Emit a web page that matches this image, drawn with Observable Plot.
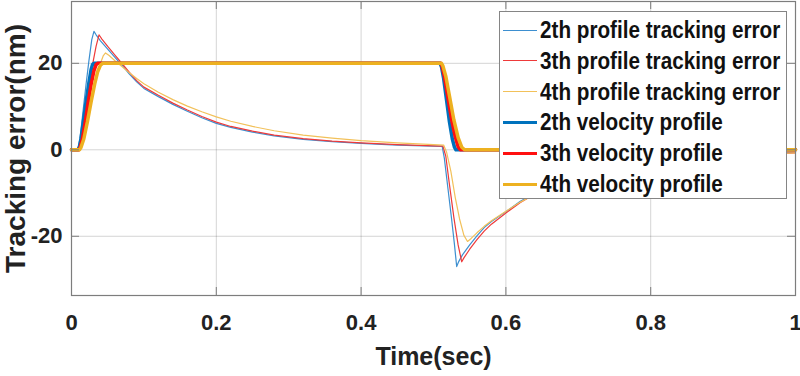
<!DOCTYPE html>
<html>
<head>
<meta charset="utf-8">
<script src="https://cdn.jsdelivr.net/npm/d3@7"></script>
<script src="https://cdn.jsdelivr.net/npm/@observablehq/plot@0.6"></script>
<style>
  html, body { margin: 0; padding: 0; background: #fff; }
  #wrap { position: relative; width: 800px; height: 376px; font-family: "Liberation Sans", Arial, sans-serif; }
  #legend { position: absolute; left: 499px; top: 11px; width: 288px; height: 188px; border: 1px solid #858585; background: #fff; box-sizing: border-box; }
  .row { position: absolute; left: 0; height: 30px; display: flex; align-items: center; font-weight: bold; font-size: 21px; color: #111; white-space: nowrap; }
  .row span { display: inline-block; transform: scale(0.985, 1.1); transform-origin: left center; }
  .sw { width: 34px; margin-left: 3px; margin-right: 3px; }
</style>
</head>
<body>
<div id="wrap"></div>
<script>
// ---------- data ----------
const xTicks = [0, 0.2, 0.4, 0.6, 0.8, 1];
const yTicks = [-20, 0, 20];

const seriesNames = [
  "2th profile tracking error",
  "3th profile tracking error",
  "4th profile tracking error",
  "2th velocity profile",
  "3th velocity profile",
  "4th velocity profile"
];

// tracking errors [time, nm]
const err2 = [[0,0],[0.009,0],[0.012,3],[0.016,9],[0.020,15],[0.024,20.5],[0.028,25.5],[0.031,27.4],[0.034,26.6],[0.040,25.2],[0.050,23.3],[0.060,21.4],[0.070,19.5],[0.080,17.5],[0.090,15.7],[0.100,14.2],[0.120,12.3],[0.140,10.5],[0.160,8.9],[0.180,7.4],[0.200,6.1],[0.220,5.2],[0.250,4.1],[0.280,3.2],[0.320,2.4],[0.360,1.9],[0.400,1.5],[0.450,1.1],[0.500,0.85],[0.512,0.8],[0.515,-2],[0.520,-9],[0.525,-16],[0.529,-22],[0.532,-27.0],[0.535,-25.8],[0.540,-24.3],[0.550,-22.0],[0.560,-19.9],[0.570,-18.0],[0.580,-16.6],[0.600,-14.3],[0.620,-11.9],[0.640,-10.0],[0.670,-7.8],[0.700,-6.1],[0.750,-4.1],[0.800,-2.8],[0.850,-1.9],[0.900,-1.3],[0.950,-0.9],[1.000,-0.6]];
const err3 = [[0,0],[0.010,0],[0.014,3],[0.018,7.5],[0.022,12],[0.026,16.5],[0.030,20.5],[0.034,24],[0.038,26.6],[0.042,25.6],[0.050,23.9],[0.060,21.9],[0.070,19.9],[0.080,17.9],[0.090,16.0],[0.100,14.5],[0.120,12.6],[0.140,10.8],[0.160,9.2],[0.180,7.7],[0.200,6.4],[0.220,5.4],[0.250,4.3],[0.280,3.4],[0.320,2.6],[0.360,2.0],[0.400,1.6],[0.450,1.2],[0.500,0.9],[0.513,0.85],[0.517,-1.5],[0.522,-8],[0.528,-15.5],[0.534,-22],[0.539,-25.9],[0.542,-25.0],[0.550,-23.0],[0.560,-20.8],[0.570,-18.8],[0.580,-17.2],[0.600,-14.6],[0.620,-12.2],[0.640,-10.2],[0.670,-8.0],[0.700,-6.3],[0.750,-4.2],[0.800,-2.9],[0.850,-2.0],[0.900,-1.4],[0.950,-1.0],[1.000,-0.7]];
const err4 = [[0,0],[0.011,0],[0.016,2.5],[0.022,7],[0.028,12],[0.034,16.5],[0.040,20],[0.044,21.8],[0.047,22.4],[0.052,21.8],[0.060,20.6],[0.070,19.2],[0.080,17.8],[0.090,16.5],[0.100,15.3],[0.120,13.3],[0.140,11.6],[0.160,10.1],[0.180,8.8],[0.200,7.6],[0.220,6.6],[0.250,5.4],[0.280,4.4],[0.320,3.4],[0.360,2.7],[0.400,2.1],[0.450,1.6],[0.500,1.2],[0.514,1.1],[0.518,-0.5],[0.524,-5],[0.530,-11],[0.536,-16],[0.542,-19.8],[0.547,-21.2],[0.552,-20.5],[0.560,-19.2],[0.570,-17.7],[0.580,-16.4],[0.600,-14.2],[0.620,-12.1],[0.640,-10.3],[0.670,-8.2],[0.700,-6.5],[0.750,-4.4],[0.800,-3.0],[0.850,-2.1],[0.900,-1.5],[0.950,-1.0],[1.000,-0.7]];

// velocity profiles [time, value]
const vel2 = [[0,0],[0.009,0],[0.011,0.8],[0.013,2.5],[0.016,6],[0.020,11],[0.024,15.5],[0.027,18.5],[0.029,19.7],[0.031,20],[0.509,20],[0.511,19.2],[0.514,16.5],[0.518,11.5],[0.522,6.5],[0.526,2.5],[0.529,0.6],[0.531,0],[1,0]];
const vel3 = [[0,0],[0.010,0],[0.012,0.6],[0.015,2.5],[0.019,6.5],[0.023,11],[0.027,15],[0.031,18.3],[0.034,19.7],[0.036,20],[0.510,20],[0.512,19.3],[0.515,17],[0.520,12],[0.525,7],[0.530,3],[0.534,0.7],[0.537,0],[1,0]];
const vel4 = [[0,0],[0.011,0],[0.013,0.5],[0.017,2.5],[0.022,6.5],[0.027,11],[0.032,15.2],[0.036,18],[0.040,19.6],[0.043,20],[0.511,20],[0.513,19.4],[0.517,17],[0.522,12.5],[0.528,7],[0.534,2.8],[0.539,0.6],[0.543,0],[1,0]];

const colors = ["#0072BD", "#FF1010", "#EDB120"];
const thinColors = ["#3d8fd0", "#ee3a3a", "#f2c15a"];

// ---------- chart ----------
const W = 800, H = 376, mL = 71, mR = 5, mT = 1, mB = 81;
const plotW = W - mL - mR, plotH = H - mT - mB;
const axisColor = "#7d7d7d";
const font = "Liberation Sans, Arial, sans-serif";

const errs = [err2, err3, err4];
const vels = [vel2, vel3, vel4];

const chart = Plot.plot({
  width: W, height: H,
  marginLeft: mL, marginRight: mR, marginTop: mT, marginBottom: mB,
  style: { fontFamily: font, background: "#fff", overflow: "visible" },
  x: { domain: [0, 1], ticks: xTicks, label: null },
  y: { domain: [-33.7, 34.3], ticks: yTicks, label: null },
  marks: [
    Plot.gridX(xTicks, { stroke: "#000", strokeOpacity: 0.17 }),
    Plot.gridY(yTicks, { stroke: "#000", strokeOpacity: 0.17 }),
    ...errs.map((d, i) => Plot.line(d, { x: "0", y: "1", stroke: thinColors[i], strokeWidth: 1.2 })),
    ...vels.map((d, i) => Plot.line(d, { x: "0", y: "1", stroke: colors[i], strokeWidth: 3.5, strokeLinejoin: "round" })),
    // inward ticks on all sides
    Plot.tickX(xTicks, { x: d => d, insetTop: plotH - 8, stroke: axisColor }),
    Plot.tickX(xTicks, { x: d => d, insetBottom: plotH - 8, stroke: axisColor }),
    Plot.tickY(yTicks, { y: d => d, insetRight: plotW - 8, stroke: axisColor }),
    Plot.tickY(yTicks, { y: d => d, insetLeft: plotW - 8, stroke: axisColor }),
    Plot.frame({ stroke: axisColor, strokeWidth: 1.2 }),
    Plot.axisX(xTicks, { tickSize: 0, tickPadding: 19, fontSize: 22, fontWeight: "bold", fill: "#222", label: null,
      tickFormat: d => (d === 0 || d === 1) ? String(d) : d.toFixed(1) }),
    Plot.axisY(yTicks, { tickSize: 0, tickPadding: 9, fontSize: 22, fontWeight: "bold", fill: "#222", label: null,
      tickFormat: d => String(d) }),
    Plot.text(["Tracking error(nm)"], { text: d => d, frameAnchor: "left", textAnchor: "middle", rotate: -90, dx: -55, fontSize: 28, fontWeight: "bold", fill: "#222" }),
    Plot.text(["Time(sec)"], { text: d => d, frameAnchor: "bottom", textAnchor: "middle", dy: 69, fontSize: 25, fontWeight: "bold", fill: "#222" })
  ]
});

const wrap = document.getElementById("wrap");
wrap.appendChild(chart);

// legend
const legend = document.createElement("div");
legend.id = "legend";
seriesNames.forEach((name, i) => {
  const row = document.createElement("div");
  row.className = "row";
  row.style.top = (3 + i * 30.8) + "px";
  const k = i % 3;
  const thick = i >= 3;
  const sw = document.createElement("div");
  sw.className = "sw";
  sw.style.height = "0px";
  sw.style.borderTop = (thick ? 3.5 : 1.3) + "px solid " + (thick ? colors[k] : thinColors[k]);
  row.appendChild(sw);
  const t = document.createElement("span");
  t.textContent = name;
  row.appendChild(t);
  legend.appendChild(row);
});
wrap.appendChild(legend);
</script>
</body>
</html>
